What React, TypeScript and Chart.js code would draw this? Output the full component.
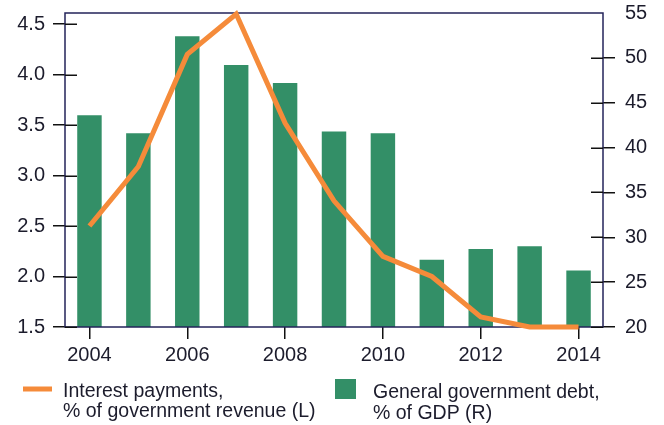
import { useEffect, useRef } from 'react';
import { Chart, registerables } from 'chart.js';

Chart.register(...registerables);

const years = ['2004', '2005', '2006', '2007', '2008', '2009', '2010', '2011', '2012', '2013', '2014'];
const interestPayments = [2.5, 3.09, 4.2, 4.6, 3.52, 2.75, 2.2, 2.0, 1.6, 1.5, 1.5];
const governmentDebt = [43.6, 41.6, 52.4, 49.2, 47.2, 41.8, 41.6, 27.5, 28.7, 29.0, 26.3];
const lineLegend = ['Interest payments,', '% of government revenue (L)'];
const barLegend = ['General government debt,', '% of GDP (R)'];

const ORANGE = '#F58B3A';
const GREEN = '#338F67';
const BORDER = '#23235a';
const TICK = '#111111';
const TEXT = '#1c1c2c';
const FONT_FAMILY = '"Liberation Sans", Arial, sans-serif';

export default function App() {
  const ref = useRef<HTMLCanvasElement | null>(null);

  useEffect(() => {
    if (!ref.current) return;

    const frame = {
      id: 'frame',
      afterDatasetDraw(chart: any, args: any) {
        if (args.meta.type !== 'bar') return;
        const { ctx, chartArea } = chart;
        ctx.save();
        ctx.strokeStyle = BORDER;
        ctx.lineWidth = 1.5;
        ctx.strokeRect(chartArea.left, chartArea.top, chartArea.right - chartArea.left, chartArea.bottom - chartArea.top);
        ctx.strokeStyle = TICK;
        const yL = chart.scales.y;
        const yR = chart.scales.y1;
        yL.ticks.forEach((t: any) => {
          const py = Math.round(yL.getPixelForValue(t.value)) + 0.25;
          ctx.beginPath();
          ctx.moveTo(chartArea.left, py);
          ctx.lineTo(chartArea.left + 12, py);
          ctx.stroke();
        });
        yR.ticks.forEach((t: any) => {
          if (t.value >= 55) return;
          const py = Math.round(yR.getPixelForValue(t.value)) + 0.25;
          ctx.beginPath();
          ctx.moveTo(chartArea.right - 12, py);
          ctx.lineTo(chartArea.right, py);
          ctx.stroke();
        });
        ctx.restore();
      },
    };

    const legend = {
      id: 'customLegend',
      afterDraw(chart: any) {
        const { ctx } = chart;
        ctx.save();
        ctx.font = `19.5px ${FONT_FAMILY}`;
        ctx.fillStyle = TEXT;
        ctx.textBaseline = 'alphabetic';
        ctx.textAlign = 'left';
        ctx.strokeStyle = ORANGE;
        ctx.lineWidth = 5;
        ctx.beginPath();
        ctx.moveTo(23, 389);
        ctx.lineTo(52, 389);
        ctx.stroke();
        ctx.fillText(lineLegend[0], 63, 397);
        ctx.fillText(lineLegend[1], 63, 417);
        ctx.fillStyle = GREEN;
        ctx.fillRect(335, 379, 21, 20);
        ctx.fillStyle = TEXT;
        ctx.fillText(barLegend[0], 373, 398);
        ctx.fillText(barLegend[1], 373, 419);
        ctx.restore();
      },
    };

    const fixPad = (s: any) => {
      s.paddingTop = 0;
      s.paddingBottom = 0;
    };

    const chart = new Chart(ref.current, {
      type: 'bar',
      data: {
        labels: years,
        datasets: [
          {
            type: 'line',
            label: lineLegend.join(' '),
            data: interestPayments,
            yAxisID: 'y',
            borderColor: ORANGE,
            backgroundColor: ORANGE,
            borderWidth: 5,
            pointRadius: 0,
            tension: 0,
            order: 0,
            clip: 10,
          } as any,
          {
            type: 'bar',
            label: barLegend.join(' '),
            data: governmentDebt,
            yAxisID: 'y1',
            backgroundColor: GREEN,
            borderWidth: 0,
            categoryPercentage: 1,
            barPercentage: 0.5,
            order: 1,
          },
        ],
      },
      options: {
        animation: false,
        responsive: false,
        devicePixelRatio: 1,
        layout: { padding: { top: 13, left: 0, right: 0, bottom: 0 } },
        plugins: {
          legend: { display: false },
          tooltip: { enabled: false },
        },
        scales: {
          x: {
            offset: true,
            border: { display: false },
            grid: {
              offset: false,
              drawOnChartArea: false,
              drawTicks: true,
              tickLength: 12,
              lineWidth: 1.5,
              color: (c: any) => (c.index % 2 === 0 ? TICK : 'rgba(0,0,0,0)'),
            },
            ticks: {
              autoSkip: false,
              maxRotation: 0,
              padding: 4,
              color: TEXT,
              font: { family: FONT_FAMILY, size: 20 },
              callback: (_v: any, i: number) => (i % 2 === 0 ? years[i] : ''),
            },
            afterFit: (s: any) => {
              s.height = 98;
              s.paddingLeft = 0;
              s.paddingRight = 0;
            },
          },
          y: {
            position: 'left',
            min: 1.5,
            max: 4.61,
            border: { display: false },
            grid: {
              drawOnChartArea: false,
              drawTicks: true,
              tickLength: 12,
              lineWidth: 1.5,
              color: TICK,
            },
            ticks: {
              stepSize: 0.5,
              includeBounds: false,
              padding: 8,
              color: TEXT,
              font: { family: FONT_FAMILY, size: 20 },
              callback: (v: any) => Number(v).toFixed(1),
            },
            afterFit: (s: any) => {
              s.width = 65;
              fixPad(s);
            },
          },
          y1: {
            position: 'right',
            min: 20,
            max: 55,
            border: { display: false },
            grid: {
              drawOnChartArea: false,
              drawTicks: true,
              tickLength: 12,
              lineWidth: 1.5,
              color: (c: any) => (c.tick && c.tick.value >= 55 ? 'rgba(0,0,0,0)' : TICK),
            },
            ticks: {
              stepSize: 5,
              includeBounds: false,
              padding: 10,
              color: TEXT,
              font: { family: FONT_FAMILY, size: 20 },
              callback: (v: any) => String(v),
            },
            afterFit: (s: any) => {
              s.width = 61;
              fixPad(s);
            },
          },
        },
      },
      plugins: [frame, legend],
    });

    return () => chart.destroy();
  }, []);

  return (
    <div style={{ position: 'absolute', left: 0, top: 0, width: 664, height: 425, background: '#fff' }}>
      <canvas ref={ref} width={664} height={425} style={{ display: 'block', width: 664, height: 425 }} />
    </div>
  );
}
